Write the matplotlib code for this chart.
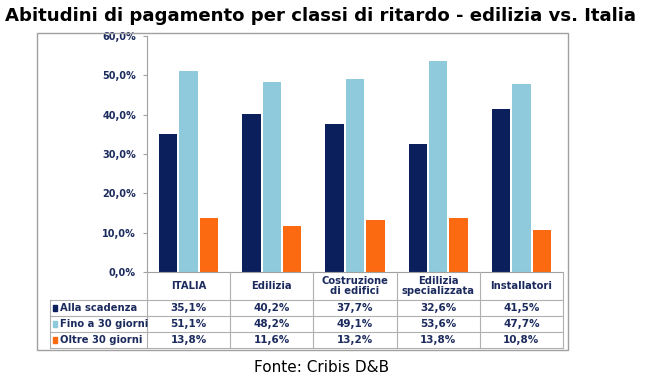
import matplotlib.pyplot as plt
from matplotlib.patches import Rectangle
from matplotlib.lines import Line2D
import numpy as np

categories = ['ITALIA', 'Edilizia', 'Costruzione\ndi edifici', 'Edilizia\nspecializzata', 'Installatori']
series_names = ['Alla scadenza', 'Fino a 30 giorni', 'Oltre 30 giorni']
alla_scadenza = [35.1, 40.2, 37.7, 32.6, 41.5]
fino_30 = [51.1, 48.2, 49.1, 53.6, 47.7]
oltre_30 = [13.8, 11.6, 13.2, 13.8, 10.8]
colors = ['#0b1f5c', '#8ecadb', '#fb6a10']
text_col = '#1c2b5e'

W, H = 650, 388
fig = plt.figure(figsize=(6.5, 3.88), dpi=100)

def fx(x):
    return x / W

def fy(y):
    return 1 - y / H

# outer frame
fig.patches.append(Rectangle((fx(37), fy(350)), fx(568) - fx(37), fy(33) - fy(350),
                             transform=fig.transFigure, fill=False, ec='#a0a0a0', lw=1))

fig.text(fx(5), fy(16), 'Abitudini di pagamento per classi di ritardo - edilizia vs. Italia',
         fontsize=13.1, fontweight='bold', va='center', ha='left')

x0, x1, ytop, ybot = 147, 563, 36, 272
ax = fig.add_axes([fx(x0), fy(ybot), fx(x1) - fx(x0), fy(ytop) - fy(ybot)])
series = [alla_scadenza, fino_30, oltre_30]
x = np.arange(len(categories))
bw = 0.22
gap = 0.025
for i, (vals, c) in enumerate(zip(series, colors)):
    ax.bar(x + (i - 1) * (bw + gap), vals, width=bw, color=c)
ax.set_xlim(-0.5, len(categories) - 0.5)
ax.set_ylim(0, 60)
ax.set_yticks(range(0, 61, 10))
ax.set_yticklabels([f'{v},0%' for v in range(0, 61, 10)], fontsize=7,
                   fontweight='bold', color=text_col)
ax.tick_params(axis='y', length=3, color='#a0a0a0', pad=5)
ax.set_xticks([])
for s in ['top', 'right']:
    ax.spines[s].set_visible(False)
ax.spines['left'].set_color('#a0a0a0')
ax.spines['bottom'].set_color('#a0a0a0')

# data table below
col_w = (x1 - x0) / len(categories)
row_lines = [300, 316, 332, 348]
line_kw = dict(color='#b0b0b0', lw=0.8, transform=fig.transFigure)
fig.lines.append(Line2D([fx(x0), fx(x0)], [fy(ybot), fy(348)], **line_kw))
for k in range(1, len(categories) + 1):
    xx = x0 + k * col_w
    fig.lines.append(Line2D([fx(xx), fx(xx)], [fy(ybot), fy(348)], **line_kw))
for yy in row_lines:
    fig.lines.append(Line2D([fx(50), fx(x1)], [fy(yy), fy(yy)], **line_kw))
fig.lines.append(Line2D([fx(50), fx(50)], [fy(300), fy(348)], **line_kw))

for k, cat in enumerate(categories):
    cx = x0 + (k + 0.5) * col_w
    fig.text(fx(cx), fy(286), cat, ha='center', va='center', fontsize=7.2,
             fontweight='bold', color=text_col, linespacing=1.0)
for r, (name, vals, c) in enumerate(zip(series_names, series, colors)):
    cy = (row_lines[r] + row_lines[r + 1]) / 2
    fig.patches.append(Rectangle((fx(53), fy(cy + 3)), fx(4) - fx(0), fy(0) - fy(6),
                                 transform=fig.transFigure, color=c))
    fig.text(fx(60), fy(cy), name, ha='left', va='center', fontsize=7.2,
             fontweight='bold', color=text_col)
    for k, v in enumerate(vals):
        cx = x0 + (k + 0.5) * col_w
        fig.text(fx(cx), fy(cy), f'{v:.1f}%'.replace('.', ','), ha='center',
                 va='center', fontsize=7.5, fontweight='bold', color=text_col)

fig.text(fx(322), fy(368), 'Fonte: Cribis D&B', ha='center', va='center', fontsize=11)

fig.savefig('out.png', dpi=100)
